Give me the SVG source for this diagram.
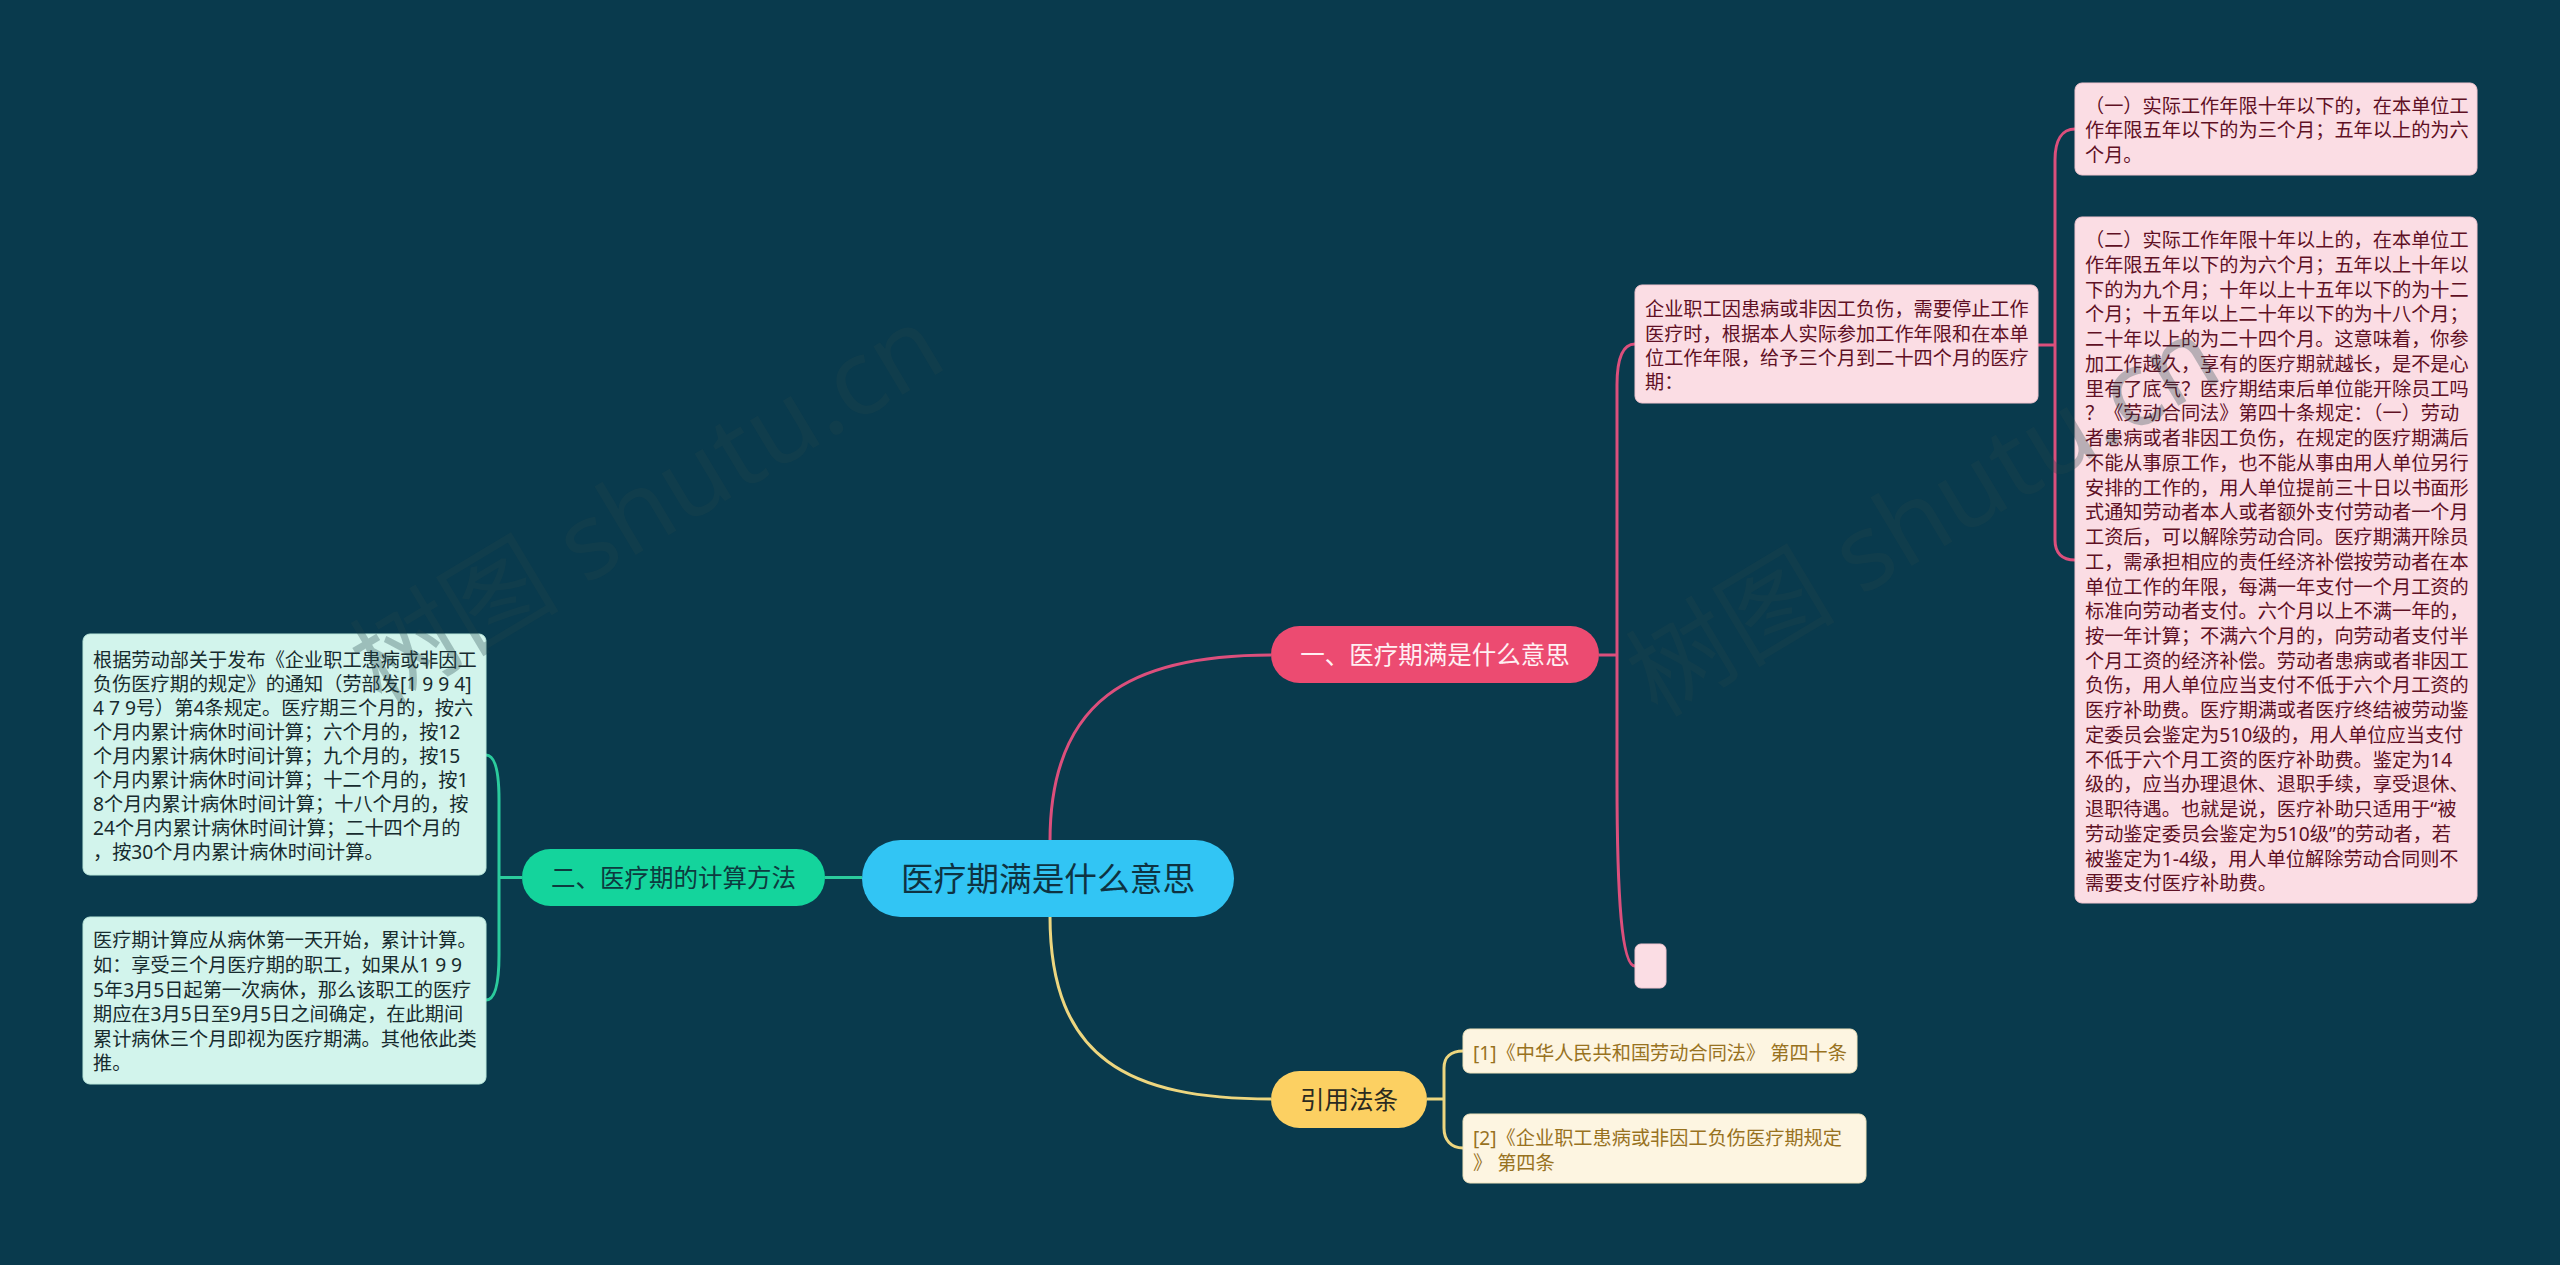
<svg xmlns="http://www.w3.org/2000/svg" width="2560" height="1265" viewBox="0 0 2560 1265">
<style>
text{font-family:"Noto Sans","Noto Sans CJK SC",sans-serif}
.bt{font-size:19.2px}
.nt{text-anchor:middle;dominant-baseline:central}
.pk rect{fill:#FBDDE4;stroke:#F3C6D1;stroke-width:1}
.pk text{fill:#5F1024}
.mn rect{fill:#D2F4EC;stroke:#BCE9DD;stroke-width:1}
.mn text{fill:#172B2E}
.cr rect{fill:#FDF5E1;stroke:#F0E4BE;stroke-width:1}
.cr text{fill:#98721F}
.cp{fill:none;stroke:#DC4F7C;stroke-width:3}
.cg{fill:none;stroke:#2BCB9D;stroke-width:3}
.cy{fill:none;stroke:#EDD67F;stroke-width:3}
.wm{font-size:105px;fill:#22454b;opacity:0.3;text-anchor:middle;dominant-baseline:central}
</style>
<rect width="2560" height="1265" fill="#093A4D"/>
<g id="connectors">
<path class="cp" d="M1050,860 L1050,841 C1050,700 1130,655 1271,655"/>
<path class="cy" d="M1050,900 L1050,916 C1050,1060 1130,1099 1271,1099"/>
<path class="cg" d="M825,877.5 L862,877.5"/>
<path class="cp" d="M1599,655 H1617 M1617,655 V385 C1617,360 1622,344 1635,344 M1617,655 V780 C1617,900 1622,966 1635,966"/>
<path class="cp" d="M2038,345 H2055 M2055,345 V160 C2055,140 2062,129 2075,129 M2055,345 V540 C2055,553 2062,560 2075,560"/>
<path class="cg" d="M522,877.5 H499 M499,877.5 V800 C499,767 494,755 486,755 M499,877.5 V955 C499,988 494,1000 486,1000"/>
<path class="cy" d="M1427,1099 H1444 M1444,1099 V1068 C1444,1057 1451,1051 1463,1051 M1444,1099 V1128 C1444,1140 1451,1148 1463,1148"/>
</g>
<g id="central">
<rect x="862" y="840" width="372" height="77" rx="38.5" fill="#32C5F4"/>
<text class="nt" x="1048" y="878.5" font-size="32.7" fill="#0E3342">医疗期满是什么意思</text>
</g>
<g id="branch1">
<rect x="1271" y="626" width="328" height="57" rx="28.5" fill="#EC4B71"/>
<text class="nt" x="1435" y="654.5" font-size="24.5" fill="#FFF0F3">一、医疗期满是什么意思</text>
</g>
<g id="branch2">
<rect x="522" y="849" width="303" height="57" rx="28.5" fill="#14D49C"/>
<text class="nt" x="673.5" y="877.5" font-size="24.5" fill="#0D3B3F">二、医疗期的计算方法</text>
</g>
<g id="branch3">
<rect x="1271" y="1071" width="156" height="57" rx="28.5" fill="#FCD062"/>
<text class="nt" x="1349" y="1099.5" font-size="24.5" fill="#2B2A20">引用法条</text>
</g>
<g id="intro" class="pk">
<rect x="1635" y="285" width="403" height="118" rx="7"/>
<text class="bt" x="1645" y="316.3"><tspan x="1645">企业职工因患病或非因工负伤，需要停止工作</tspan><tspan x="1645" dy="24.3">医疗时，根据本人实际参加工作年限和在本单</tspan><tspan x="1645" dy="24.3">位工作年限，给予三个月到二十四个月的医疗</tspan><tspan x="1645" dy="24.3">期：</tspan></text>
</g>
<g id="empty" class="pk">
<rect x="1635" y="944" width="31" height="44" rx="6"/>
</g>
<g id="boxA" class="pk">
<rect x="2075" y="83" width="402" height="92" rx="7"/>
<text class="bt" x="2085" y="112.5"><tspan x="2085">（一）实际工作年限十年以下的，在本单位工</tspan><tspan x="2085" dy="24.5">作年限五年以下的为三个月；五年以上的为六</tspan><tspan x="2085" dy="24.5">个月。</tspan></text>
</g>
<g id="boxB" class="pk">
<rect x="2075" y="217" width="402" height="686" rx="7"/>
<text class="bt" x="2085" y="247.3"><tspan x="2085">（二）实际工作年限十年以上的，在本单位工</tspan><tspan x="2085" dy="24.73">作年限五年以下的为六个月；五年以上十年以</tspan><tspan x="2085" dy="24.73">下的为九个月；十年以上十五年以下的为十二</tspan><tspan x="2085" dy="24.73">个月；十五年以上二十年以下的为十八个月；</tspan><tspan x="2085" dy="24.73">二十年以上的为二十四个月。这意味着，你参</tspan><tspan x="2085" dy="24.73">加工作越久，享有的医疗期就越长，是不是心</tspan><tspan x="2085" dy="24.73">里有了底气？医疗期结束后单位能开除员工吗</tspan><tspan x="2085" dy="24.73">？《劳动合同法》第四十条规定：（一）劳动</tspan><tspan x="2085" dy="24.73">者患病或者非因工负伤，在规定的医疗期满后</tspan><tspan x="2085" dy="24.73">不能从事原工作，也不能从事由用人单位另行</tspan><tspan x="2085" dy="24.73">安排的工作的，用人单位提前三十日以书面形</tspan><tspan x="2085" dy="24.73">式通知劳动者本人或者额外支付劳动者一个月</tspan><tspan x="2085" dy="24.73">工资后，可以解除劳动合同。医疗期满开除员</tspan><tspan x="2085" dy="24.73">工，需承担相应的责任经济补偿按劳动者在本</tspan><tspan x="2085" dy="24.73">单位工作的年限，每满一年支付一个月工资的</tspan><tspan x="2085" dy="24.73">标准向劳动者支付。六个月以上不满一年的，</tspan><tspan x="2085" dy="24.73">按一年计算；不满六个月的，向劳动者支付半</tspan><tspan x="2085" dy="24.73">个月工资的经济补偿。劳动者患病或者非因工</tspan><tspan x="2085" dy="24.73">负伤，用人单位应当支付不低于六个月工资的</tspan><tspan x="2085" dy="24.73">医疗补助费。医疗期满或者医疗终结被劳动鉴</tspan><tspan x="2085" dy="24.73">定委员会鉴定为510级的，用人单位应当支付</tspan><tspan x="2085" dy="24.73">不低于六个月工资的医疗补助费。鉴定为14</tspan><tspan x="2085" dy="24.73">级的，应当办理退休、退职手续，享受退休、</tspan><tspan x="2085" dy="24.73">退职待遇。也就是说，医疗补助只适用于“被</tspan><tspan x="2085" dy="24.73">劳动鉴定委员会鉴定为510级”的劳动者，若</tspan><tspan x="2085" dy="24.73">被鉴定为1-4级，用人单位解除劳动合同则不</tspan><tspan x="2085" dy="24.73">需要支付医疗补助费。</tspan></text>
</g>
<g id="left1" class="mn">
<rect x="83" y="634" width="403" height="241" rx="7"/>
<text class="bt" x="93" y="666.5"><tspan x="93">根据劳动部关于发布《企业职工患病或非因工</tspan><tspan x="93" dy="24">负伤医疗期的规定》的通知（劳部发[1 9 9 4]</tspan><tspan x="93" dy="24">4 7 9号）第4条规定。医疗期三个月的，按六</tspan><tspan x="93" dy="24">个月内累计病休时间计算；六个月的，按12</tspan><tspan x="93" dy="24">个月内累计病休时间计算；九个月的，按15</tspan><tspan x="93" dy="24">个月内累计病休时间计算；十二个月的，按1</tspan><tspan x="93" dy="24">8个月内累计病休时间计算；十八个月的，按</tspan><tspan x="93" dy="24">24个月内累计病休时间计算；二十四个月的</tspan><tspan x="93" dy="24">，按30个月内累计病休时间计算。</tspan></text>
</g>
<g id="left2" class="mn">
<rect x="83" y="917" width="403" height="167" rx="7"/>
<text class="bt" x="93" y="947.3"><tspan x="93">医疗期计算应从病休第一天开始，累计计算。</tspan><tspan x="93" dy="24.6">如：享受三个月医疗期的职工，如果从1 9 9</tspan><tspan x="93" dy="24.6">5年3月5日起第一次病休，那么该职工的医疗</tspan><tspan x="93" dy="24.6">期应在3月5日至9月5日之间确定，在此期间</tspan><tspan x="93" dy="24.6">累计病休三个月即视为医疗期满。其他依此类</tspan><tspan x="93" dy="24.6">推。</tspan></text>
</g>
<g id="ref1" class="cr">
<rect x="1463" y="1029" width="394" height="44" rx="7"/>
<text class="bt" x="1473" y="1060.3">[1]《中华人民共和国劳动合同法》 第四十条</text>
</g>
<g id="ref2" class="cr">
<rect x="1463" y="1114" width="403" height="69" rx="7"/>
<text class="bt" x="1473" y="1145.3"><tspan x="1473">[2]《企业职工患病或非因工负伤医疗期规定</tspan><tspan x="1473" dy="24.7">》 第四条</tspan></text>
</g>
<g id="watermark">
<text class="wm" transform="rotate(-31 645 502)" x="645" y="502">树图 shutu.cn</text>
<text class="wm" transform="rotate(-31 1921 513)" x="1921" y="513">树图 shutu.cn</text>
</g>
</svg>
